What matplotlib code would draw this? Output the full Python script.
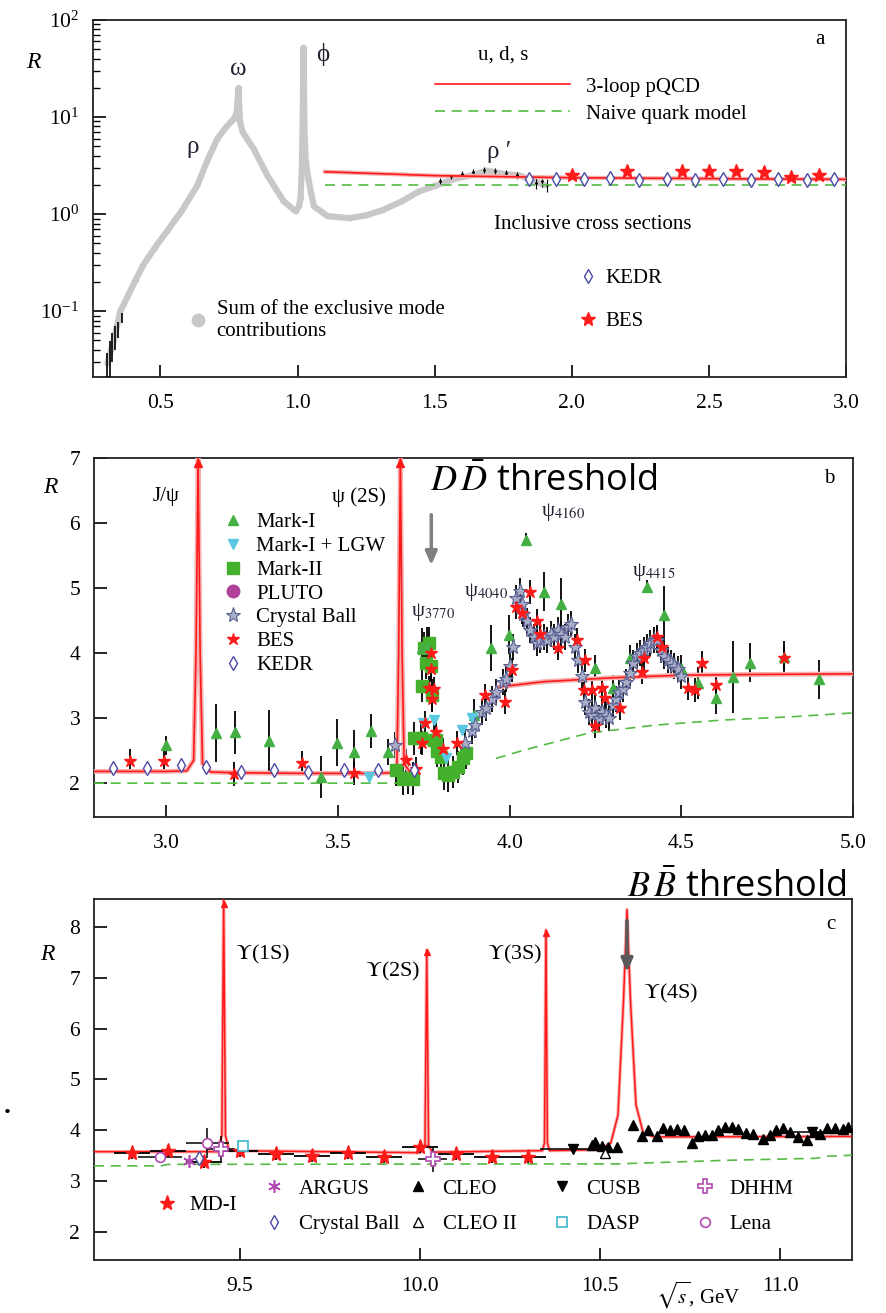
import numpy as np
import matplotlib
matplotlib.use('agg')
import matplotlib.pyplot as plt
from matplotlib.lines import Line2D
from matplotlib.legend import Legend

plt.rcParams['font.family'] = ['Liberation Serif', 'DejaVu Serif']
plt.rcParams['mathtext.fontset'] = 'stix'

FS = 15
RED = '#ff1a1a'
PINK = '#f6b0b0'
GREEN = '#55bb44'
GREY = '#c8c8c8'
BLUE = '#4a4aa8'
TXT = '#222233'

# ---------------- panel a data (sqrt(s) in GeV, R) ----------------
excl_x = [0.307, 0.33, 0.354, 0.38, 0.41, 0.438, 0.48, 0.525, 0.58, 0.635, 0.67,
          0.708, 0.74, 0.767, 0.778, 0.785, 0.790, 0.80, 0.84, 0.89, 0.95, 0.993,
          1.005, 1.011, 1.016, 1.019, 1.022, 1.025, 1.03, 1.04, 1.05, 1.06, 1.11,
          1.19, 1.25, 1.31, 1.38, 1.44, 1.50, 1.57, 1.63, 1.69, 1.75, 1.81, 1.86, 1.90]
excl_y = [0.029, 0.05, 0.10, 0.14, 0.21, 0.30, 0.45, 0.67, 1.1, 1.98, 3.5,
          5.97, 7.9, 9.5, 11, 20, 9.0, 7.0, 4.7, 2.5, 1.35, 1.07,
          1.2, 1.45, 3.0, 10, 52, 8, 3.5, 2.3, 1.6, 1.2, 0.95,
          0.91, 0.97, 1.1, 1.35, 1.7, 1.95, 2.3, 2.5, 2.8, 2.6, 2.5, 2.2, 2.0]
lowE_x = [0.305, 0.315, 0.325, 0.335, 0.345, 0.36]
lowE_y = [0.025, 0.035, 0.045, 0.055, 0.065, 0.085]
lowE_err = [0.012, 0.014, 0.015, 0.015, 0.012, 0.01]
incl_x = [1.52, 1.56, 1.60, 1.64, 1.68, 1.72, 1.76, 1.80, 1.84, 1.87, 1.89, 1.91]
incl_y = [2.2, 2.45, 2.6, 2.7, 2.85, 2.8, 2.65, 2.5, 2.3, 2.1, 2.2, 2.0]
incl_err = [0.15, 0.15, 0.15, 0.2, 0.2, 0.2, 0.2, 0.2, 0.25, 0.3, 0.3, 0.3]
kedr_a_x = [1.843, 1.942, 2.044, 2.139, 2.245, 2.347, 2.449, 2.551, 2.653, 2.752, 2.858, 2.956]
kedr_a_y = [2.30, 2.28, 2.32, 2.34, 2.27, 2.30, 2.25, 2.28, 2.26, 2.30, 2.27, 2.30]
bes_a_x = [2.0, 2.2, 2.4, 2.5, 2.6, 2.7, 2.8, 2.9]
bes_a_y = [2.50, 2.75, 2.75, 2.75, 2.75, 2.69, 2.40, 2.50]
pqcd_a_x = [1.1, 1.5, 2.0, 2.5, 3.0]
pqcd_a_y = [2.73, 2.49, 2.37, 2.32, 2.28]
naive_a_x = [1.1, 3.0]
naive_a_y = [2.0, 2.0]

# ---------------- panel b data ----------------
pqcd_b_x = [2.79, 3.00, 3.06, 3.080, 3.087, 3.093, 3.099, 3.106, 3.13, 3.20, 3.40, 3.60,
            3.66, 3.672, 3.677, 3.682, 3.687, 3.693, 3.71, 3.725, np.nan,
            3.97, 4.10, 4.30, 4.50, 4.70, 5.00]
pqcd_b_y = [2.18, 2.18, 2.19, 2.35, 4.0, 7.0, 4.0, 2.3, 2.17, 2.16, 2.15, 2.15,
            2.16, 2.3, 4.0, 7.0, 4.0, 2.3, 2.17, 2.15, np.nan,
            3.48, 3.56, 3.62, 3.66, 3.67, 3.68]
naive_b_x = [2.79, 3.72, np.nan, 3.96, 4.05, 4.13, 4.23, 4.42, 4.62, 4.82, 5.00]
naive_b_y = [2.00, 2.00, np.nan, 2.38, 2.52, 2.63, 2.77, 2.89, 2.97, 3.02, 3.08]
peaks_b_x = [3.093, 3.682]
peaks_b_y = [6.93, 6.93]

mk1_x = [3.00, 3.146, 3.20, 3.30, 3.45, 3.497, 3.547, 3.596, 3.646, 3.745, 3.76, 3.895,
         3.947, 3.997, 4.047, 4.10, 4.149, 4.249, 4.30, 4.35, 4.40, 4.45, 4.50, 4.55,
         4.60, 4.65, 4.70, 4.80, 4.90]
mk1_y = [2.58, 2.77, 2.78, 2.65, 2.09, 2.62, 2.48, 2.80, 2.48, 4.08, 4.10, 3.05,
         4.08, 4.28, 5.74, 4.94, 4.76, 3.77, 3.46, 3.92, 5.02, 4.58, 3.77, 3.54,
         3.31, 3.63, 3.85, 3.94, 3.60]
mk1_err = [0.15, 0.44, 0.33, 0.47, 0.32, 0.36, 0.33, 0.26, 0.2, 0.3, 0.3, 0.25,
           0.35, 0.3, 0.1, 0.3, 0.4, 0.2, 0.2, 0.2, 0.1, 0.45, 0.2, 0.25,
           0.25, 0.55, 0.3, 0.25, 0.3]
lgw_x = [3.59, 3.748, 3.78, 3.816, 3.86, 3.89]
lgw_y = [2.10, 2.92, 2.97, 2.38, 2.82, 3.00]
mk2_x = [3.670, 3.690, 3.705, 3.720, 3.722, 3.742, 3.746, 3.750, 3.757, 3.765, 3.770,
         3.775, 3.780, 3.787, 3.790, 3.800, 3.810, 3.820, 3.836, 3.850, 3.865, 3.874]
mk2_y = [2.20, 2.07, 2.08, 2.07, 2.69, 2.70, 3.50, 4.08, 3.85, 4.15, 3.80,
         3.35, 2.67, 2.66, 2.50, 2.40, 2.15, 2.12, 2.17, 2.25, 2.38, 2.46]
cb_x = [3.667, 3.87, 3.89, 3.90, 3.92, 3.93, 3.95, 3.96, 3.98, 3.99, 4.00, 4.01, 4.02,
        4.03, 4.035, 4.04, 4.05, 4.06, 4.07, 4.08, 4.09, 4.10, 4.11, 4.12, 4.13, 4.14,
        4.15, 4.16, 4.17, 4.18, 4.19, 4.20, 4.21, 4.22, 4.23, 4.24, 4.25, 4.26, 4.27,
        4.28, 4.29, 4.30, 4.31, 4.32, 4.33, 4.34, 4.35, 4.36, 4.37, 4.38, 4.39, 4.40,
        4.41, 4.42, 4.43, 4.44, 4.45, 4.46, 4.47, 4.48, 4.49, 4.50]
cb_y = [2.58, 2.62, 2.80, 2.90, 3.10, 3.15, 3.30, 3.40, 3.55, 3.60, 3.80, 4.10, 4.85,
        4.95, 4.75, 4.60, 4.50, 4.35, 4.25, 4.15, 4.20, 4.25, 4.20, 4.30, 4.25, 4.35,
        4.30, 4.25, 4.40, 4.45, 4.10, 3.90, 3.65, 3.25, 3.10, 3.05, 3.15, 3.00, 3.10,
        3.05, 3.00, 3.20, 3.30, 3.40, 3.45, 3.55, 3.70, 3.85, 3.95, 4.00, 4.05, 4.10,
        4.15, 4.20, 4.20, 4.05, 3.95, 3.90, 3.85, 3.80, 3.75, 3.65]
bes_b_x = [2.895, 2.995, 3.197, 3.397, 3.547, 3.699, 3.728, 3.745, 3.755, 3.765, 3.77,
           3.772, 3.775, 3.78, 3.787, 3.806, 3.848, 3.927, 3.986, 4.006, 4.018, 4.035,
           4.058, 4.08, 4.088, 4.14, 4.196, 4.216, 4.22, 4.24, 4.249, 4.27, 4.278,
           4.322, 4.386, 4.392, 4.43, 4.444, 4.52, 4.54, 4.56, 4.60, 4.80]
bes_b_y = [2.34, 2.34, 2.14, 2.31, 2.15, 2.35, 2.22, 2.62, 2.93, 3.47, 4.00,
           3.75, 3.29, 3.45, 2.78, 2.52, 2.62, 3.35, 3.25, 3.74, 4.71, 4.62,
           4.94, 4.50, 4.30, 4.08, 4.20, 3.43, 3.89, 3.43, 2.88, 3.46, 3.31,
           3.15, 3.71, 3.92, 4.25, 4.09, 3.46, 3.43, 3.85, 3.51, 3.92]
kedr_b_x = [2.845, 2.944, 3.044, 3.117, 3.219, 3.313, 3.412, 3.518, 3.617, 3.722]
kedr_b_y = [2.23, 2.23, 2.28, 2.25, 2.17, 2.20, 2.17, 2.20, 2.20, 2.20]

# ---------------- panel c data ----------------
pqcd_c_x = [9.095, 9.44, 9.450, 9.455, 9.460, 9.47, 10.0, 10.014, 10.019, 10.024, 10.035,
            10.34, 10.346, 10.35, 10.354, 10.36, 10.50, 10.53, 10.55, 10.565, 10.575,
            10.585, 10.60, 10.62, 10.65, 11.2]
pqcd_c_y = [3.58, 3.58, 3.9, 8.55, 3.9, 3.6, 3.56, 3.7, 7.55, 3.7, 3.57,
            3.6, 3.75, 7.94, 3.75, 3.6, 3.62, 3.75, 4.3, 6.5, 8.34,
            6.5, 4.5, 3.95, 3.87, 3.88]
naive_c_x = [9.095, 9.28, 9.30, 10.55, 10.85, 11.10, 11.13, 11.20]
naive_c_y = [3.30, 3.30, 3.33, 3.34, 3.41, 3.45, 3.49, 3.51]
peaks_c_x = [9.455, 10.019, 10.35]
peaks_c_y = [8.45, 7.50, 7.89]
mdi_x = [9.2, 9.3, 9.4, 9.5, 9.6, 9.7, 9.8, 9.9, 10.0, 10.1, 10.2, 10.3]
mdi_y = [3.55, 3.59, 3.38, 3.59, 3.54, 3.50, 3.55, 3.47, 3.67, 3.54, 3.47, 3.47]
argus_x = [9.358]
argus_y = [3.40]
cbc_x = [9.386]
cbc_y = [3.45]
cleo_x = [10.477, 10.486, 10.505, 10.523, 10.546, 10.593, 10.616, 10.634, 10.657, 10.676,
          10.694, 10.713, 10.734, 10.755, 10.773, 10.792, 10.81, 10.829, 10.847, 10.866,
          10.884, 10.906, 10.926, 10.952, 10.972, 10.989, 11.007, 11.028, 11.051, 11.074,
          11.093, 11.111, 11.131, 11.153, 11.174, 11.19]
cleo_y = [3.71, 3.78, 3.69, 3.67, 3.67, 4.10, 3.89, 4.00, 3.89, 4.04,
          4.00, 4.02, 4.00, 3.76, 3.89, 3.91, 3.91, 4.00, 4.07, 4.07,
          4.02, 3.94, 3.93, 3.82, 3.91, 4.00, 4.04, 3.97, 3.86, 3.80,
          3.97, 3.93, 4.04, 4.04, 4.02, 4.07]
cleo2_x = [10.514]
cleo2_y = [3.55]
cusb_x = [10.424, 11.09]
cusb_y = [3.63, 3.96]
dasp_x = [9.51]
dasp_y = [3.69]
dhhm_x = [9.447, 10.035]
dhhm_y = [3.63, 3.43]
lena_x = [9.278, 9.41]
lena_y = [3.48, 3.75]

fig = plt.figure(figsize=(8.87, 13.13), dpi=100)
ax_a = fig.add_axes([0.105, 0.7129, 0.849, 0.2719])
ax_b = fig.add_axes([0.106, 0.3778, 0.8557, 0.2734])
ax_c = fig.add_axes([0.106, 0.0404, 0.8546, 0.2749])

for ax in (ax_a, ax_b, ax_c):
    ax.tick_params(which='major', direction='in', length=9, width=1.2,
                   labelsize=FS + 0.5, pad=10, top=False, right=False)
    ax.tick_params(which='minor', direction='in', length=5, width=1.0)
    for s in ax.spines.values():
        s.set_linewidth(1.3)
        s.set_color('#222222')


def key(ax, handles, labels, x, y, loc='upper left', **kw):
    leg = Legend(ax, handles, labels, loc=loc, bbox_to_anchor=(x, y), frameon=False,
                 borderpad=0, borderaxespad=0, fontsize=FS, **kw)
    ax.add_artist(leg)
    return leg


# ---------------- panel a ----------------
ax = ax_a
ax.set_yscale('log')
ax.plot(excl_x, excl_y, '-', color=GREY, lw=4.5, solid_capstyle='round', zorder=2)
ax.plot(excl_x, excl_y, 'o', color=GREY, ms=3, zorder=2)
ax.errorbar(lowE_x, lowE_y, yerr=lowE_err, fmt='none', ecolor='k', elinewidth=1.2, zorder=3)
ax.errorbar(incl_x, incl_y, yerr=incl_err, fmt='.', color='k', ms=2, ecolor='k',
            elinewidth=0.8, zorder=3)
ax.plot(pqcd_a_x, pqcd_a_y, '-', color=PINK, lw=3, zorder=3)
l_pqcd, = ax.plot(pqcd_a_x, pqcd_a_y, '-', color=RED, lw=1.2, zorder=4)
l_naive, = ax.plot(naive_a_x, naive_a_y, '--', color=GREEN, lw=1.2, dashes=(6, 4), zorder=4)
h_kedr, = ax.plot(kedr_a_x, kedr_a_y, 'd', mfc='white', mec=BLUE, mew=1.0, ms=7, zorder=5)
h_bes, = ax.plot(bes_a_x, bes_a_y, '*', color=RED, ms=10, zorder=6)
ax.set_xlim(0.255, 3.0)
ax.set_ylim(0.021, 100)
ax.set_xticks([0.5, 1.0, 1.5, 2.0, 2.5, 3.0])
ax.set_xticklabels(['0.5', '1.0', '1.5', '2.0', '2.5', '3.0'])
ax.tick_params(axis='x', pad=12)

ax.text(0.617, 4.9, 'ρ', fontsize=FS + 3, ha='center', va='center', color=TXT)
ax.text(0.785, 31, 'ω', fontsize=FS + 3, ha='center', va='center', color=TXT)
ax.text(1.091, 44, 'ϕ', fontsize=FS + 3, ha='center', va='center', color=TXT)
ax.text(1.734, 4.4, 'ρ ′', fontsize=FS + 3, ha='center', va='center', color=TXT)
ax.text(1.748, 43, 'u, d, s', fontsize=FS, ha='center', va='center')
ax.text(2.077, 0.79, 'Inclusive cross sections', fontsize=FS, ha='center', va='center')
ax.text(0.965, 0.944, 'a', transform=ax.transAxes, fontsize=FS, ha='center', va='center')
ax.text(-0.08, 0.882, 'R', transform=ax.transAxes, fontsize=FS + 2, style='italic',
        ha='center', va='center')
key(ax, [l_pqcd, l_naive], ['3-loop pQCD', 'Naive quark model'], 0.454, 0.84,
    handlelength=6.5, handletextpad=0.75, labelspacing=0.35)
key(ax, [h_kedr, h_bes], ['KEDR', 'BES'], 0.646, 0.303,
    handlelength=0.8, handletextpad=0.45, labelspacing=1.1)
h_sum = Line2D([], [], ls='none', marker='o', ms=9, color=GREY)
key(ax, [h_sum], ['Sum of the exclusive mode\ncontributions'], 0.128, 0.216,
    handlelength=0.8, handletextpad=0.5)

# ---------------- panel b ----------------
ax = ax_b
ebk = dict(fmt='none', ecolor='k', elinewidth=1.3, zorder=2)
ax.errorbar(mk1_x, mk1_y, yerr=mk1_err, **ebk)
ax.errorbar(cb_x, cb_y, yerr=0.2, **ebk)
ax.errorbar(mk2_x, mk2_y, yerr=0.25, **ebk)
ax.errorbar(bes_b_x, bes_b_y, yerr=0.18, **ebk)
ax.plot(pqcd_b_x, pqcd_b_y, '-', color=PINK, lw=3.5, zorder=3)
ax.plot(pqcd_b_x, pqcd_b_y, '-', color=RED, lw=1.2, zorder=3)
ax.plot(peaks_b_x, peaks_b_y, '^', color=RED, ms=6, clip_on=False, zorder=3)
ax.plot(naive_b_x, naive_b_y, '--', color=GREEN, lw=1.2, dashes=(6, 4), zorder=3)
h_mk2, = ax.plot(mk2_x, mk2_y, 's', color='#44b02c', ms=8.5, zorder=4)
h_mk1, = ax.plot(mk1_x, mk1_y, '^', color='#44b044', ms=7, zorder=4)
h_lgw, = ax.plot(lgw_x, lgw_y, 'v', color='#5ac8e0', ms=7, zorder=4)
h_cb, = ax.plot(cb_x, cb_y, '*', mfc='#a8adc8', mec='#5a6090', mew=0.8, ms=11, zorder=5)
h_besb, = ax.plot(bes_b_x, bes_b_y, '*', color=RED, ms=9, zorder=6)
h_kedrb, = ax.plot(kedr_b_x, kedr_b_y, 'd', mfc='white', mec=BLUE, mew=1.0, ms=7, zorder=6)
h_pluto = Line2D([], [], ls='none', marker='o', ms=9, color='#b0409a')
ax.set_xlim(2.79, 5.0)
ax.set_ylim(1.48, 7.0)
ax.set_xticks([3.0, 3.5, 4.0, 4.5, 5.0])
ax.set_xticklabels(['3.0', '3.5', '4.0', '4.5', '5.0'])
ax.set_yticks([2, 3, 4, 5, 6, 7])
ax.tick_params(axis='x', pad=12)
ax.text(3.0, 6.40, 'J/ψ', fontsize=FS, ha='center', va='center')
ax.text(3.56, 6.40, 'ψ (2S)', fontsize=FS, ha='center', va='center')
ax.text(3.778, 4.63, 'ψ$_{3770}$', fontsize=FS, ha='center', va='center', color=TXT)
ax.text(3.933, 4.94, 'ψ$_{4040}$', fontsize=FS, ha='center', va='center', color=TXT)
ax.text(4.155, 6.17, 'ψ$_{4160}$', fontsize=FS, ha='center', va='center', color=TXT)
ax.text(4.421, 5.25, 'ψ$_{4415}$', fontsize=FS, ha='center', va='center', color=TXT)
ax.text(0.968, 0.944, 'b', transform=ax.transAxes, fontsize=FS, ha='center', va='center')
ax.text(-0.058, 0.919, 'R', transform=ax.transAxes, fontsize=FS + 2, style='italic',
        ha='center', va='center')
key(ax, [h_mk1, h_lgw, h_mk2, h_pluto, h_cb, h_besb, h_kedrb],
    ['Mark-I', 'Mark-I + LGW', 'Mark-II', 'PLUTO', 'Crystal Ball', 'BES', 'KEDR'],
    0.170, 0.847, handlelength=1.0, handletextpad=0.6, labelspacing=0.2)
ax.annotate('', xy=(3.772, 5.31), xytext=(3.772, 6.17),
            arrowprops=dict(arrowstyle='-|>,head_width=0.35,head_length=0.8',
                            color='#808080', lw=2.5))

# ---------------- panel c ----------------
ax = ax_c
ax.plot(pqcd_c_x, pqcd_c_y, '-', color=PINK, lw=2.5, zorder=2)
ax.plot(pqcd_c_x, pqcd_c_y, '-', color=RED, lw=1.1, zorder=3)
ax.plot(peaks_c_x, peaks_c_y, '^', color=RED, ms=5, clip_on=False, zorder=3)
ax.plot(naive_c_x, naive_c_y, '--', color=GREEN, lw=1.2, dashes=(6, 4), zorder=3)
ax.errorbar(mdi_x, mdi_y, xerr=0.05, yerr=0.12, fmt='none', ecolor='k', elinewidth=1.3, zorder=3)
ax.errorbar(lena_x, lena_y, xerr=0.06, yerr=[0.05, 0.3], fmt='none', ecolor='k', elinewidth=1.1, zorder=3)
ax.errorbar(cusb_x, cusb_y, xerr=0.09, fmt='none', ecolor='k', elinewidth=1.1, zorder=3)
ax.errorbar(dhhm_x, dhhm_y, xerr=0.04, yerr=0.25, fmt='none', ecolor='k', elinewidth=1.1, zorder=3)
h_mdi, = ax.plot(mdi_x, mdi_y, '*', color=RED, ms=11, zorder=5)
h_argus, = ax.plot(argus_x, argus_y, marker=(6, 2, 0), ls='none', color='#b04ab0', ms=9, mew=1.2, zorder=5)
h_cbc, = ax.plot(cbc_x, cbc_y, 'd', mfc='white', mec=BLUE, mew=1.0, ms=7, zorder=5)
h_cleo, = ax.plot(cleo_x, cleo_y, '^', color='k', ms=6.5, zorder=5)
h_cleo2, = ax.plot(cleo2_x, cleo2_y, '^', mfc='white', mec='k', mew=1.0, ms=7, zorder=5)
h_cusb, = ax.plot(cusb_x, cusb_y, 'v', color='k', ms=7.5, zorder=5)
h_dasp, = ax.plot(dasp_x, dasp_y, 's', mfc='white', mec='#3cb8d0', mew=1.2, ms=7, zorder=5)
h_dhhm, = ax.plot(dhhm_x, dhhm_y, 'P', mfc='white', mec='#b04ab0', mew=1.2, ms=10, zorder=5)
h_lena, = ax.plot(lena_x, lena_y, 'o', mfc='white', mec='#b04ab0', mew=1.2, ms=7, zorder=5)
ax.set_xlim(9.095, 11.2)
ax.set_ylim(1.45, 8.55)
ax.set_xticks([9.5, 10.0, 10.5, 11.0])
ax.set_xticklabels(['9.5', '10.0', '10.5', '11.0'])
ax.set_yticks([2, 3, 4, 5, 6, 7, 8])
ax.tick_params(axis='x', pad=12)
ax.text(9.486, 7.45, r'$\Upsilon$(1S)', fontsize=FS + 1, ha='left', va='center')
ax.text(9.847, 7.12, r'$\Upsilon$(2S)', fontsize=FS + 1, ha='left', va='center')
ax.text(10.186, 7.45, r'$\Upsilon$(3S)', fontsize=FS + 1, ha='left', va='center')
ax.text(10.62, 6.70, r'$\Upsilon$(4S)', fontsize=FS + 1, ha='left', va='center')
ax.text(0.972, 0.928, 'c', transform=ax.transAxes, fontsize=FS, ha='center', va='center')
ax.text(-0.061, 0.845, 'R', transform=ax.transAxes, fontsize=FS + 2, style='italic',
        ha='center', va='center')
ax.text(0.797, -0.097, r'$\sqrt{s}$, GeV', transform=ax.transAxes, fontsize=FS,
        ha='center', va='center')
key(ax, [h_mdi], ['MD-I'], 0.082, 0.152, loc='center left',
    handlelength=1.0, handletextpad=0.6)
cols = [([h_argus, h_cbc], ['ARGUS', 'Crystal Ball'], 0.224),
        ([h_cleo, h_cleo2], ['CLEO', 'CLEO II'], 0.413),
        ([h_cusb, h_dasp], ['CUSB', 'DASP'], 0.603),
        ([h_dhhm, h_lena], ['DHHM', 'Lena'], 0.792)]
for hs, ls_, x0 in cols:
    key(ax, hs, ls_, x0, 0.224, handlelength=1.0, handletextpad=0.7, labelspacing=0.75)
ax.annotate('', xy=(10.575, 7.06), xytext=(10.575, 8.18),
            arrowprops=dict(arrowstyle='-|>,head_width=0.35,head_length=0.8',
                            color='#5a5a5a', lw=2.5))

# threshold labels
fig.text(430 / 887, 1 - 491 / 1313, r'$D\,\bar{D}$ threshold', fontsize=26,
         family=['Open Sans', 'DejaVu Sans'], ha='left', va='baseline')
fig.text(627 / 887, 1 - 897 / 1313, r'$B\,\bar{B}$ threshold', fontsize=26,
         family=['Open Sans', 'DejaVu Sans'], ha='left', va='baseline')
fig.text(7 / 887, 1 - 1119 / 1313, '.', fontsize=20, weight='bold', ha='center', va='bottom')

plt.savefig('out.png', dpi=100)
plt.close()
